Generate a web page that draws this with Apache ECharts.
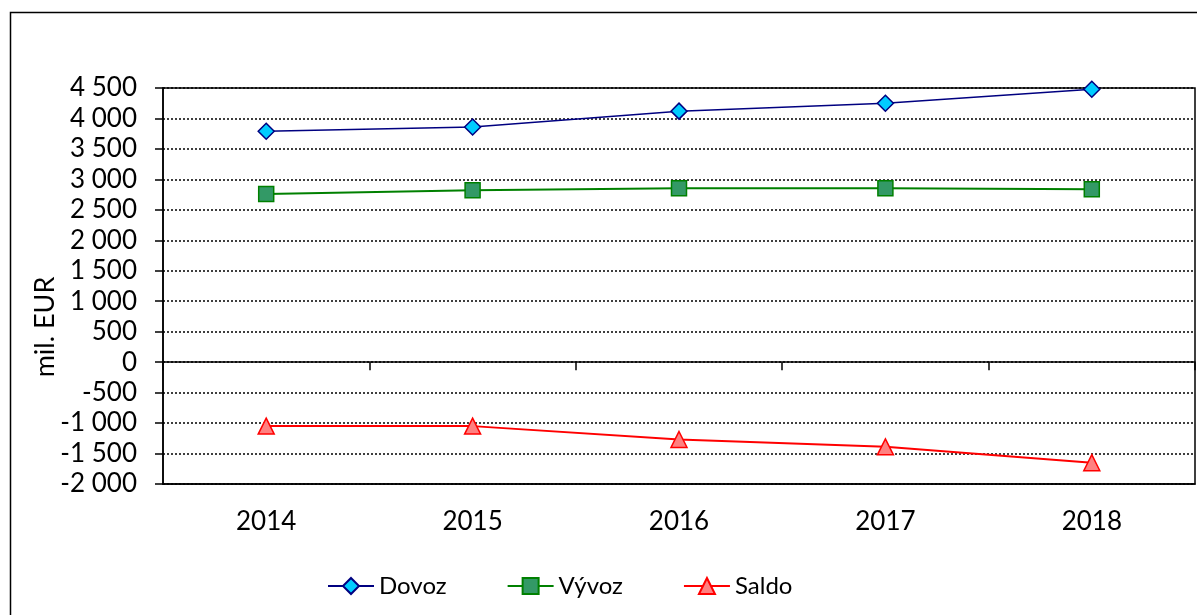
<!DOCTYPE html>
<html>
<head>
<meta charset="utf-8">
<script src="https://cdn.jsdelivr.net/npm/echarts@6/dist/echarts.min.js"></script>
<style>
  html, body { margin: 0; padding: 0; background: #fff; }
  #chart { width: 1197px; height: 615px; }
</style>
</head>
<body>
<div id="chart"></div>
<script>
// roky a hodnoty (mil. EUR)
const years = ["2014", "2015", "2016", "2017", "2018"];
const dovoz = [3790, 3860, 4120, 4250, 4480];
const vyvoz = [2760, 2820, 2855, 2855, 2840];
const saldo = [-1050, -1050, -1270, -1390, -1650];
const yTicks = { min: -2000, max: 4500, step: 500 };

const font = "Lato, Carlito, Calibri, sans-serif";

// "4 500" s medzerou ako oddelovac tisicov
function fmt(v) {
  const s = String(Math.abs(v)).replace(/\B(?=(\d{3})+(?!\d))/g, " ");
  return (v < 0 ? "-" : "") + s;
}

const chart = echarts.init(document.getElementById("chart"));

chart.setOption({
  animation: false,
  backgroundColor: "#fff",
  grid: {
    left: 163, right: 2, top: 88, bottom: 131,
    show: true, borderColor: "#000", borderWidth: 1.5, backgroundColor: "transparent"
  },
  graphic: [
    {
      type: "rect", left: 8, top: 10, z: -1,
      shape: { width: 1200, height: 620 },
      style: { fill: "none", stroke: "#000", lineWidth: 1.5 }
    },
    {
      type: "text", x: 45, y: 327, rotation: Math.PI / 2,
      style: { text: "mil. EUR", font: "27px " + font, fill: "#000", align: "center", verticalAlign: "middle" }
    }
  ],
  legend: {
    bottom: 12,
    left: 322,
    itemGap: 60,
    itemWidth: 46,
    itemHeight: 20,
    textStyle: { fontFamily: font, fontSize: 24, color: "#000" },
    data: ["Dovoz", "Vývoz", "Saldo"]
  },
  xAxis: [
    {
      type: "category",
      data: years,
      position: "bottom",
      axisLine: { onZero: false, lineStyle: { color: "#000", width: 1.5 } },
      axisTick: { show: false },
      axisLabel: { fontFamily: font, fontSize: 26, color: "#000", margin: 25 },
      splitLine: { show: false }
    },
    {
      type: "category",
      data: years,
      position: "bottom",
      axisLine: { onZero: true, lineStyle: { color: "#000", width: 1.5 } },
      axisTick: { show: true, length: 8, lineStyle: { color: "#000", width: 1.5 } },
      axisLabel: { show: false },
      splitLine: { show: false }
    }
  ],
  yAxis: {
    type: "value",
    min: yTicks.min,
    max: yTicks.max,
    interval: yTicks.step,
    axisLine: { show: true, lineStyle: { color: "#000", width: 1.5 } },
    axisTick: { show: true, length: 8, lineStyle: { color: "#000", width: 1.5 } },
    axisLabel: { fontFamily: font, fontSize: 26, color: "#000", margin: 26, formatter: fmt },
    splitLine: { show: true, lineStyle: { color: "#000", type: [2, 2], width: 1.5 } }
  },
  series: [
    {
      name: "Dovoz", type: "line", data: dovoz,
      symbol: "diamond", symbolSize: 16,
      lineStyle: { color: "#000080", width: 1.5 },
      itemStyle: { color: "#00ccff", borderColor: "#000080", borderWidth: 1.5 }
    },
    {
      name: "Vývoz", type: "line", data: vyvoz,
      symbol: "rect", symbolSize: 15,
      lineStyle: { color: "#008000", width: 2 },
      itemStyle: { color: "#339966", borderColor: "#008000", borderWidth: 1.5 }
    },
    {
      name: "Saldo", type: "line", data: saldo,
      symbol: "triangle", symbolSize: 16,
      lineStyle: { color: "#ff0000", width: 2 },
      itemStyle: { color: "#ff8080", borderColor: "#ff0000", borderWidth: 1.5 }
    }
  ]
});
</script>
</body>
</html>
